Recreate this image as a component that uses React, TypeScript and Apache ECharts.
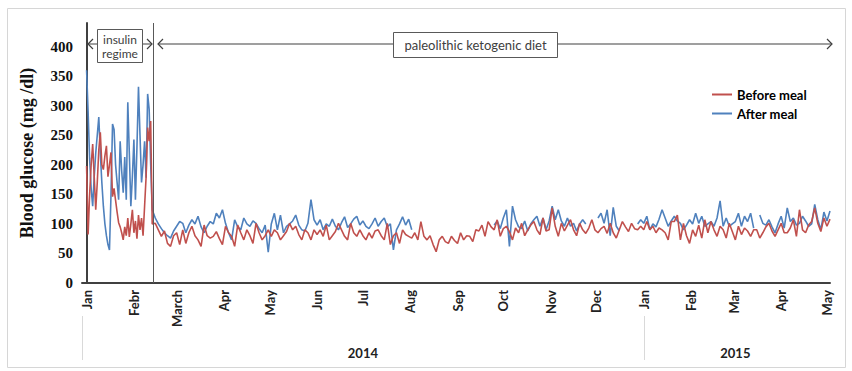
import React, { useEffect, useRef } from "react";
import * as echarts from "echarts";

// ---- Data ----
const MONTH_DAYS = [0, 31, 59, 90, 120, 151, 181, 212, 243, 273, 304, 334, 365, 396, 424, 455, 485];
const MONTH_LABELS = ["Jan", "Febr", "March", "Apr", "May", "Jun", "Jul", "Aug", "Sep", "Oct", "Nov", "Dec", "Jan", "Feb", "Mar", "Apr", "May"];
const YEAR_LABEL_DAYS = [181, 425];
const YEAR_LABELS = ["2014", "2015"];
const YEAR_BOUNDARY_DAYS = [-3, 365];
const DIET_START_MARK = 44;

// insulin period: daily readings starting day 0
const INSULIN_START = 0;
const INSULIN_BEFORE = [198, 82, 150, 200, 235, 180, 124, 170, 225, 255, 200, 192, 215, 232, 180, 200, 221, 146, 160, 140, 120, 102, 95, 85, 73, 95, 80, 110, 78, 100, 124, 85, 105, 75, 115, 90, 110, 80, 130, 180, 263, 240, 274, 100];
const INSULIN_AFTER = [360, 290, 210, 160, 130, 180, 220, 250, 281, 220, 170, 130, 100, 80, 65, 56, 150, 269, 260, 200, 170, 141, 240, 190, 153, 213, 141, 306, 220, 130, 180, 243, 141, 230, 332, 250, 170, 200, 240, 178, 320, 294, 200, 124];

// paleolithic ketogenic diet: readings every 2 days
const DIET_START = 45;
const DIET_STEP = 2;
const DIET_BEFORE = [
  101, 90, 79, 88, 67, 62, 80, 85, 65, 90,
  67, 85, 96, 80, 73, 62, 98, 80, 76, 79,
  87, 75, 65, 96, 85, 79, 62, 98, 85, 73,
  90, 80, 67, 101, 85, 73, 80, 90, 79, 90,
  85, 73, 80, 87, 101, 90, 96, 82, 73, 90,
  85, 73, 90, 82, 90, 79, 98, 73, 80, 87,
  101, 90, 79, 73, 101, 85, 79, 90, 80, 73,
  85, 76, 88, 90, 80, 73, 101, 65, 80, 85,
  67, 90, 82, 79, 76, 85, 73, 104, 79, 73,
  80, 65, 53, 73, 79, 70, 67, 79, 72, 67,
  85, 73, 80, 79, 70, 90, 88, 98, 79, 104,
  95, 90, 107, 79, 92, 96, 87, 73, 93, 85,
  101, 80, 90, 98, 104, 90, 82, 110, 88, 90,
  127, 96, 79, 101, 88, 98, 107, 90, 80, 101,
  90, 84, 93, 107, 90, 85, 92, 96, 84, 101,
  85, 76, 90, 104, 95, 87, 101, 92, 90, 96,
  90, 104, 90, 96, 85, 93, 90, 85, 73, 104,
  104, 115, 73, 101, 80, 67, 90, 79, 98, 76,
  107, 85, 104, 90, 79, 96, 90, 76, 101, 87,
  73, 96, 82, 93, 88, 79, 90, 90, 76, 85,
  95, 101, 88, 79, 90, 101, 85, 85, 93, 107,
  79, 124, 90, 85, 98, 104, 127, 101, 87, 110,
  96, 108,
];
const DIET_AFTER = [
  110, 100, 92, 85, 80, 76, 88, 96, 104, 101,
  85, 98, 107, 100, 113, 95, 85, 96, 104, 100,
  118, 110, 124, 101, 85, 73, 107, 95, 90, 110,
  100, 96, 105, 101, 92, 85, 98, 52, 100, 118,
  90, 115, 85, 96, 100, 105, 115, 98, 90, 88,
  101, 141, 107, 98, 107, 90, 100, 96, 108, 96,
  90, 102, 112, 94, 100, 108, 113, 98, 105, 96,
  92, 100, 110, 96, 104, 110, 95, 100, 56, 90,
  100, 112, 98, 108, 90, null, null, null, null, null,
  null, null, null, null, null, null, null, null, null, null,
  null, null, null, null, null, null, null, null, null, null,
  null, 98, 105, 92, 110, 124, 62, 130, 107, 95,
  92, 105, 88, 100, 107, 113, 96, 110, 90, 105,
  130, 107, 124, 105, 96, 110, 96, 101, 88, 100,
  107, 100, null, null, null, 110, 118, 101, 124, 80,
  128, 96, 88, null, null, null, null, null, 100, 107,
  101, 113, 90, 100, 95, 108, 124, 110, 96, 105,
  113, 105, 101, 90, 98, 107, 100, 118, 101, 113,
  96, 100, 104, 96, 110, 139, 96, 110, 96, 100,
  104, 118, 96, 113, 104, 118, 93, null, 115, 101,
  98, 107, 95, 85, 100, 113, 93, 127, 104, 110,
  98, 101, 113, 105, 96, 100, 133, 107, 90, 120,
  105, 122,
];

const RED = "#c0504d";
const BLUE = "#4f81bd";
const AXIS = "#404040";

function build(ins: (number | null)[], diet: (number | null)[]) {
  return [
    ...ins.map((v, i) => [INSULIN_START + i, v]),
    ...diet.map((v, i) => [DIET_START + DIET_STEP * i, v]),
  ];
}

const chevron = (x: number, y: number, dir: number) => ({
  type: "polyline",
  silent: true,
  shape: { points: [[x + 5 * dir, y - 5], [x, y], [x + 5 * dir, y + 5]] },
  style: { stroke: AXIS, lineWidth: 1.2, fill: "none" },
});

export default function App() {
  const ref = useRef<HTMLDivElement>(null);
  useEffect(() => {
    if (!ref.current) return;
    const chart = echarts.init(ref.current, null, { renderer: "svg" });
    const option: any = {
      animation: false,
      backgroundColor: "#ffffff",
      grid: { left: 82, right: 22, top: 23, bottom: 88 },
      legend: {
        data: ["Before meal", "After meal"],
        orient: "vertical",
        left: 707,
        top: 83,
        icon: "rect",
        itemWidth: 20,
        itemHeight: 2,
        itemGap: 6,
        textStyle: { fontFamily: "Lato", fontWeight: "bold", fontSize: 13, color: "#000" },
      },
      xAxis: [
        {
          type: "value",
          min: -3,
          max: 487,
          axisLine: { show: true, onZero: false, lineStyle: { color: AXIS, width: 2 } },
          axisTick: { show: false },
          splitLine: { show: false },
          axisLabel: {
            customValues: MONTH_DAYS,
            rotate: 90,
            margin: 7,
            fontFamily: "Lato",
            fontWeight: "bold",
            fontSize: 13,
            color: "#222",
            formatter: (v: number) => {
              const i = MONTH_DAYS.indexOf(v);
              return i >= 0 ? MONTH_LABELS[i] : "";
            },
          },
        },
        {
          type: "value",
          position: "bottom",
          offset: 32,
          min: -3,
          max: 487,
          axisLine: { show: false },
          splitLine: { show: false },
          axisTick: { show: false },
          axisLabel: {
            customValues: YEAR_LABEL_DAYS,
            margin: 31,
            fontFamily: "Lato",
            fontWeight: "bold",
            fontSize: 13,
            color: "#222",
            formatter: (v: number) => {
              const i = YEAR_LABEL_DAYS.indexOf(v);
              return i >= 0 ? YEAR_LABELS[i] : "";
            },
          },
        },
      ],
      yAxis: {
        type: "value",
        min: 0,
        max: 440,
        interval: 50,
        name: "Blood glucose (mg /dl)",
        nameLocation: "middle",
        nameGap: 46,
        nameTextStyle: { fontFamily: "Liberation Serif", fontWeight: "bold", fontSize: 18, color: "#111" },
        axisLine: { show: true, lineStyle: { color: AXIS, width: 2 } },
        axisTick: { show: false },
        splitLine: { show: false },
        axisLabel: {
          margin: 9,
          fontFamily: "Liberation Serif",
          fontWeight: "bold",
          fontSize: 15,
          color: "#111",
          formatter: (v: number) => (v > 400 ? "" : String(v)),
        },
      },
      series: [
        {
          name: "After meal",
          type: "line",
          data: build(INSULIN_AFTER, DIET_AFTER),
          symbol: "none",
          connectNulls: false,
          lineStyle: { color: BLUE, width: 1.6 },
          itemStyle: { color: BLUE },
          z: 2,
        },
        {
          name: "Before meal",
          type: "line",
          data: build(INSULIN_BEFORE, DIET_BEFORE),
          symbol: "none",
          connectNulls: false,
          lineStyle: { color: RED, width: 1.6 },
          itemStyle: { color: RED },
          z: 3,
          markLine: {
            silent: true,
            symbol: "none",
            label: { show: false },
            lineStyle: { color: "#595959", width: 1, type: "solid" },
            data: [{ xAxis: DIET_START_MARK }],
          },
        },
      ],
      graphic: [
        {
          type: "rect",
          silent: true,
          shape: { x: 7.5, y: 8.5, width: 838, height: 359 },
          style: { fill: "none", stroke: "#d6d6d6", lineWidth: 1 },
        },
        { type: "line", silent: true, shape: { x1: 88, y1: 44, x2: 152, y2: 44 }, style: { stroke: AXIS, lineWidth: 1.2 } },
        chevron(88, 44, 1),
        chevron(152, 44, -1),
        { type: "line", silent: true, shape: { x1: 158, y1: 44, x2: 832, y2: 44 }, style: { stroke: AXIS, lineWidth: 1.2 } },
        chevron(158, 44, 1),
        chevron(832, 44, -1),
        {
          type: "rect",
          silent: true,
          shape: { x: 97.5, y: 29.5, width: 45, height: 33 },
          style: { fill: "#fff", stroke: "#595959", lineWidth: 1 },
        },
        {
          type: "text",
          silent: true,
          style: {
            text: "insulin\nregime",
            x: 120,
            y: 46,
            align: "center",
            verticalAlign: "middle",
            fontFamily: "Lato",
            fontSize: 12,
            lineHeight: 14,
            fill: "#404040",
          },
        },
        {
          type: "rect",
          silent: true,
          shape: { x: 393.5, y: 32.5, width: 164, height: 25 },
          style: { fill: "#fff", stroke: "#595959", lineWidth: 1 },
        },
        {
          type: "text",
          silent: true,
          style: {
            text: "paleolithic ketogenic diet",
            x: 475.5,
            y: 45,
            align: "center",
            verticalAlign: "middle",
            fontFamily: "Lato",
            fontSize: 13,
            fill: "#404040",
          },
        },
      ],
    };
    chart.setOption(option);
    // year separators in the category band under the month labels
    const seps = YEAR_BOUNDARY_DAYS.map((d, i) => {
      const px = Math.round(chart.convertToPixel({ xAxisIndex: 0 }, d) as number) + 0.5;
      return {
        id: "yearSep" + i,
        type: "line",
        silent: true,
        shape: { x1: px, y1: 316, x2: px, y2: 360 },
        style: { stroke: "#d9d9d9", lineWidth: 1 },
      };
    });
    chart.setOption({ graphic: seps });
    return () => chart.dispose();
  }, []);
  return (
    <div
      ref={ref}
      style={{ position: "fixed", left: 0, top: 0, width: 852, height: 371, background: "#fff" }}
    />
  );
}
